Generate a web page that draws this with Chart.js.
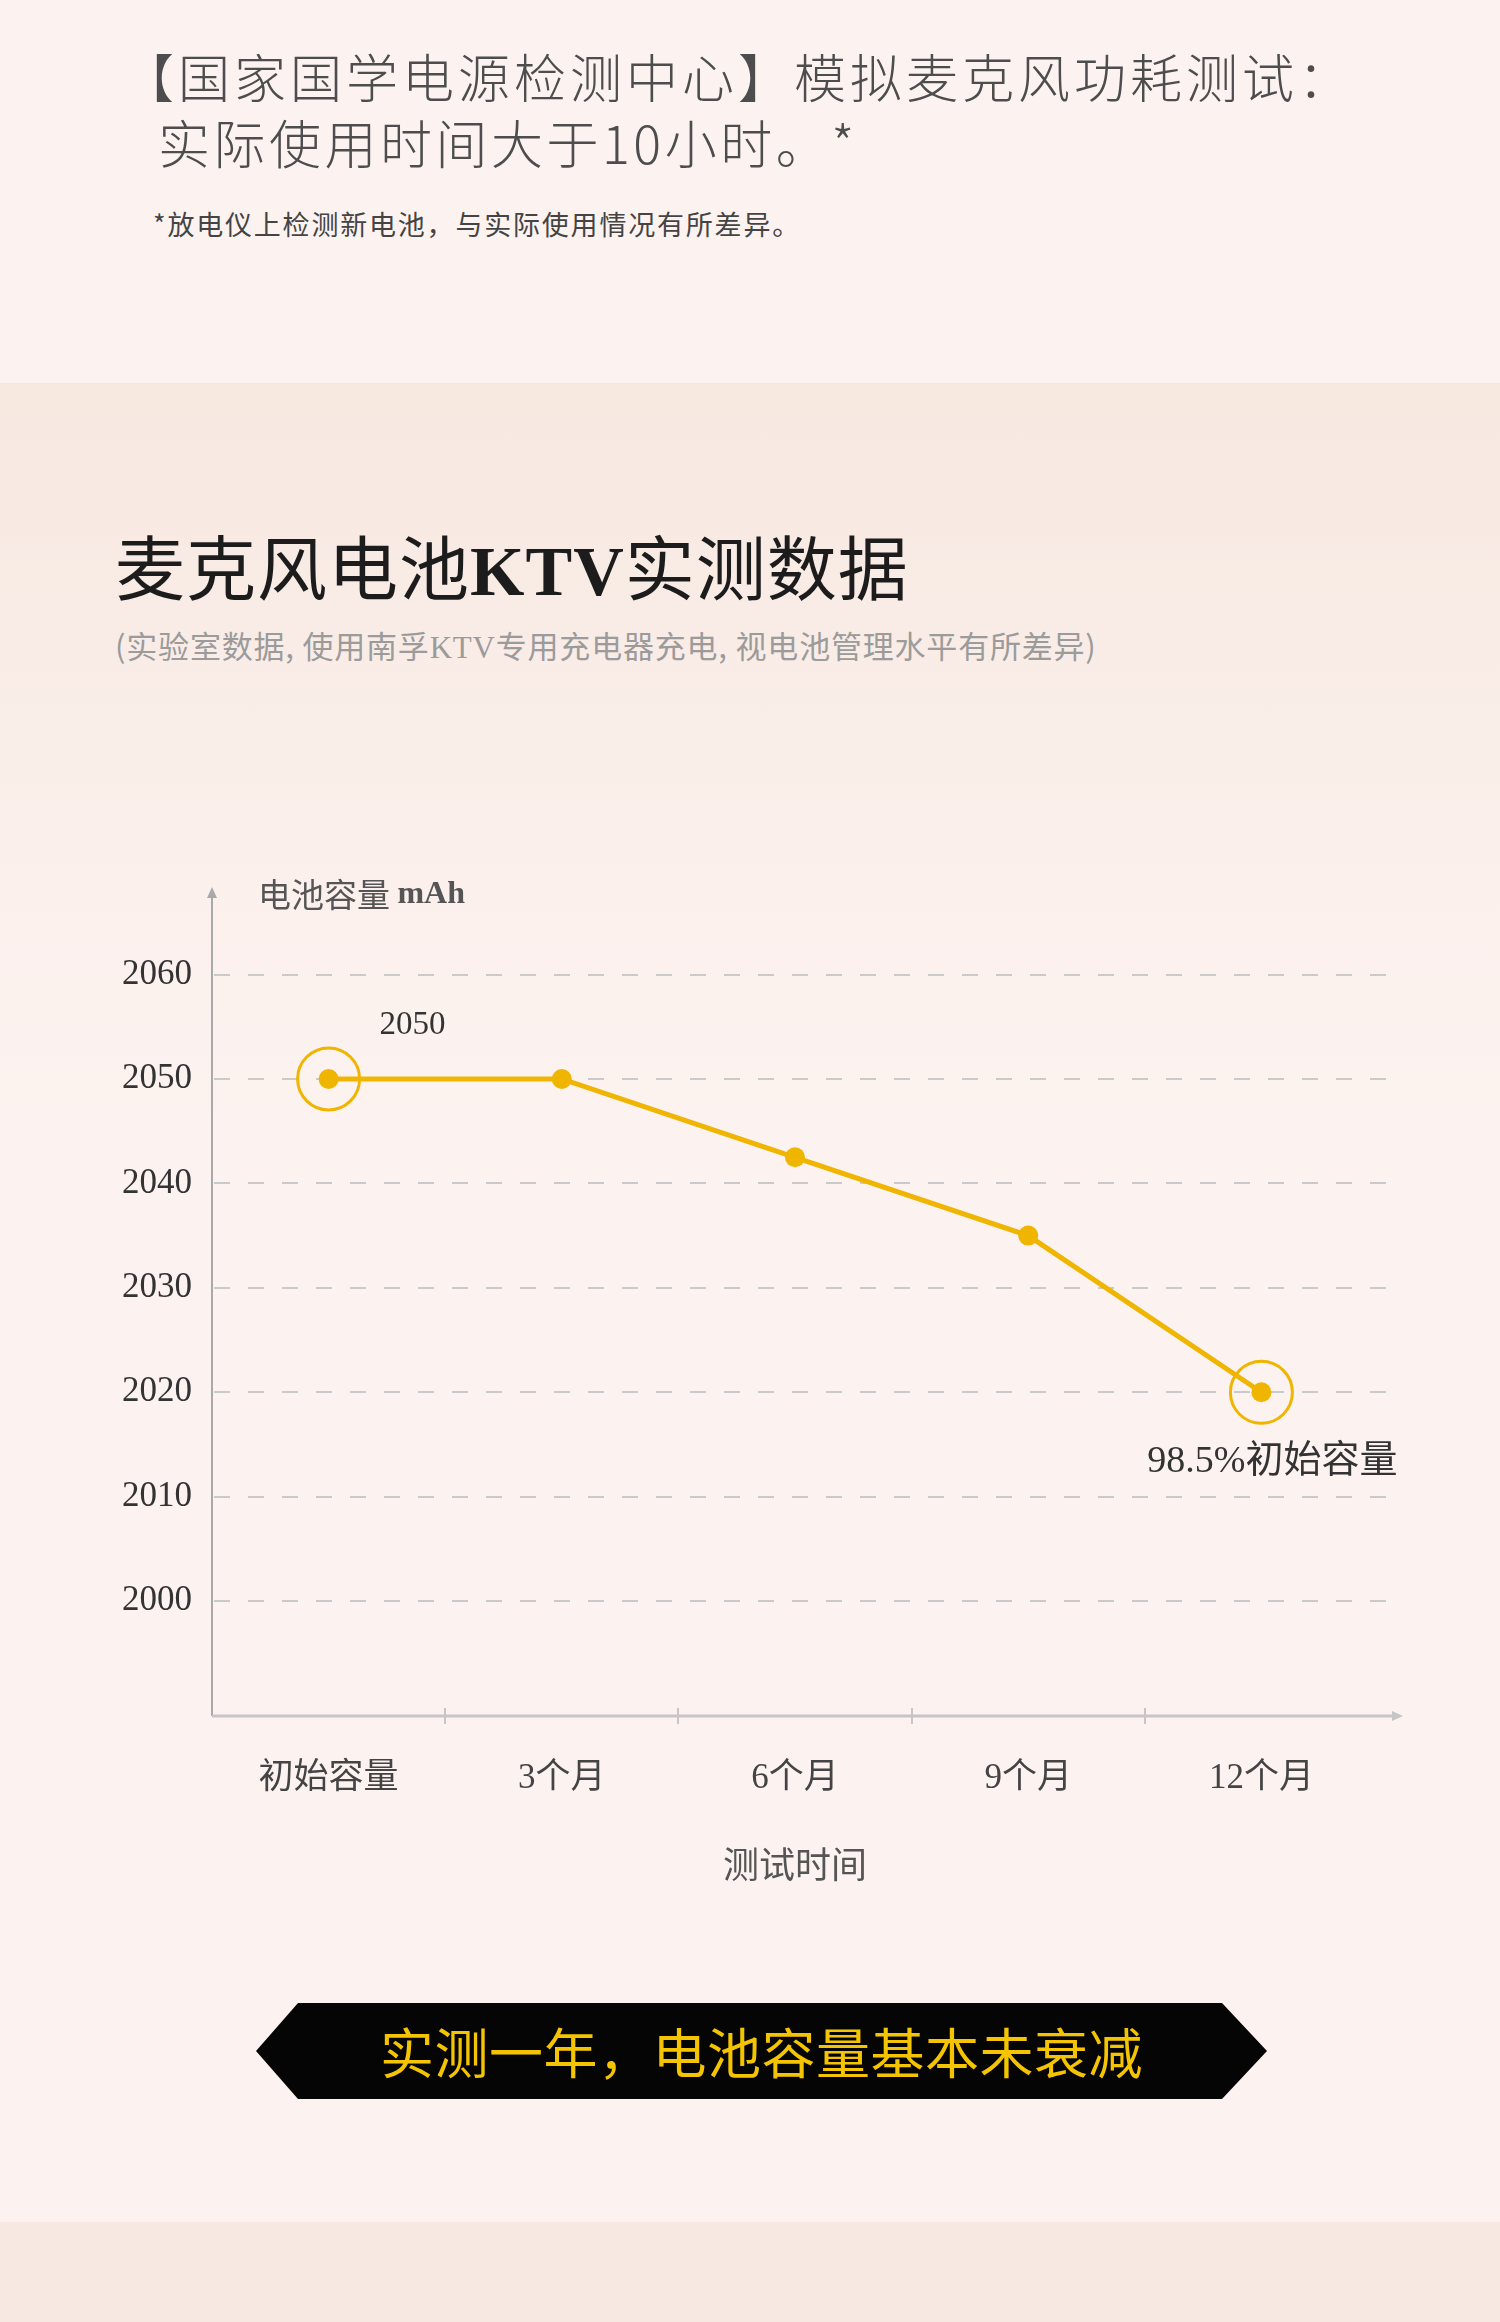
<!DOCTYPE html>
<html>
<head>
<meta charset="utf-8">
<script src="https://cdn.jsdelivr.net/npm/chart.js@4.4.1/dist/chart.umd.min.js"></script>
<style>
  html, body { margin: 0; padding: 0; }
  body {
    width: 1500px; height: 2322px; position: relative; overflow: hidden;
    background: #fcf3f0;
    font-family: "Noto Sans CJK SC", "Noto Sans", sans-serif;
  }
  .band {
    position: absolute; left: 0; top: 383px; width: 1500px; height: 1839px;
    background: linear-gradient(#f7e8e0 0px, #f9ece6 250px, #fbf0ec 500px, #fcf3f0 800px, #fcf3f0 100%);
  }
  .foot { position: absolute; left: 0; top: 2222px; width: 1500px; height: 100px; background: #f7e9e1; }
  .t { position: absolute; white-space: nowrap; line-height: 1; }
  .serif { font-family: "Liberation Serif", serif; }
  #wrap { position: absolute; left: 0; top: 862px; width: 1500px; height: 1080px; }
  .banner {
    position: absolute; left: 256px; top: 2003px; width: 1011px; height: 96px;
    background: #050505;
    clip-path: polygon(0 50%, 42px 0, 966px 0, 100% 50%, 966px 100%, 42px 100%);
  }
  .banner span {
    position: absolute; left: 0; right: 0; top: 0; bottom: 0; text-align: center;
    line-height: 96px; color: #f5c400; font-size: 54px; letter-spacing: 0.5px; font-weight: 400;
  }
</style>
</head>
<body>
<div class="band"></div>
<div class="foot"></div>

<div class="t" style="left:122px; top:50px; font-size:52px; font-weight:300; color:#4d4d4d; letter-spacing:4px;">【国家国学电源检测中心】模拟麦克风功耗测试：</div>
<div class="t" style="left:158px; top:116px; font-size:52px; font-weight:300; color:#4d4d4d; letter-spacing:3.5px;">实际使用时间大于10小时。*</div>
<div class="t" style="left:153px; top:210px; font-size:27px; color:#444; letter-spacing:1.8px;">*放电仪上检测新电池，与实际使用情况有所差异。</div>

<div class="t" style="left:115px; top:530px; font-size:70px; color:#1c1c1c; letter-spacing:1px;">麦克风电池<span class="serif" style="font-weight:bold;">KTV</span>实测数据</div>
<div class="t" style="left:115px; top:629px; font-size:31px; color:#9b9b9b; letter-spacing:0.8px;">(实验室数据, 使用南孚<span class="serif">KTV</span>专用充电器充电, 视电池管理水平有所差异)</div>

<div id="wrap"><canvas id="chart" width="1500" height="1080"></canvas></div>

<div class="banner"><span>实测一年，电池容量基本未衰减</span></div>

<script>
const categories = ['初始容量', '3个月', '6个月', '9个月', '12个月'];
const capacity = [2050, 2050, 2042.5, 2035, 2020];
const yTicks = [2000, 2010, 2020, 2030, 2040, 2050, 2060];
const yTitle = '电池容量 mAh';
const xTitle = '测试时间';

const gold = '#efb500';
const serifCJK = '"Liberation Serif", "Noto Sans CJK SC", serif';

// axes with arrows, dashed guide lines, rings and point notes
const decor = {
  id: 'decor',
  beforeDatasetsDraw(chart) {
    const {ctx, chartArea: a, scales: {x, y}} = chart;
    ctx.save();
    // dashed horizontal guides
    ctx.strokeStyle = '#cacaca';
    ctx.lineWidth = 2;
    ctx.setLineDash([16, 18]);
    yTicks.forEach(v => {
      const py = Math.round(y.getPixelForValue(v));
      ctx.beginPath();
      ctx.moveTo(a.left + 2, py);
      ctx.lineTo(a.right + 17, py);
      ctx.stroke();
    });
    ctx.setLineDash([]);
    // y axis
    ctx.strokeStyle = '#a9a9a9';
    ctx.fillStyle = '#a9a9a9';
    ctx.lineWidth = 2;
    ctx.beginPath();
    ctx.moveTo(a.left, a.bottom);
    ctx.lineTo(a.left, a.top + 2);
    ctx.stroke();
    ctx.beginPath();
    ctx.moveTo(a.left, a.top - 4);
    ctx.lineTo(a.left - 5, a.top + 7);
    ctx.lineTo(a.left + 5, a.top + 7);
    ctx.closePath();
    ctx.fill();
    // x axis
    ctx.strokeStyle = '#c6c6c6';
    ctx.fillStyle = '#c6c6c6';
    ctx.lineWidth = 3;
    ctx.beginPath();
    ctx.moveTo(a.left, a.bottom);
    ctx.lineTo(a.right + 18, a.bottom);
    ctx.stroke();
    ctx.beginPath();
    ctx.moveTo(a.right + 25, a.bottom);
    ctx.lineTo(a.right + 14, a.bottom - 5);
    ctx.lineTo(a.right + 14, a.bottom + 5);
    ctx.closePath();
    ctx.fill();
    // small marks between categories
    ctx.lineWidth = 2;
    for (let i = 0; i < categories.length - 1; i++) {
      const px = Math.round((x.getPixelForValue(i) + x.getPixelForValue(i + 1)) / 2);
      ctx.beginPath();
      ctx.moveTo(px, a.bottom - 8);
      ctx.lineTo(px, a.bottom + 8);
      ctx.stroke();
    }
    // y axis title
    ctx.textBaseline = 'middle';
    ctx.textAlign = 'left';
    ctx.fillStyle = '#555';
    ctx.font = '33px "Noto Sans CJK SC"';
    const parts = yTitle.split(' ');
    ctx.fillText(parts[0], a.left + 46, a.top + 3);
    const w0 = ctx.measureText(parts[0] + ' ').width;
    ctx.font = 'bold 32px "Liberation Serif"';
    ctx.fillText(parts[1], a.left + 46 + w0, a.top + 4);
    ctx.restore();
  },
  afterDatasetsDraw(chart) {
    const {ctx} = chart;
    const pts = chart.getDatasetMeta(0).data;
    const first = pts[0], last = pts[pts.length - 1];
    ctx.save();
    ctx.strokeStyle = gold;
    ctx.lineWidth = 3;
    [first, last].forEach(p => {
      ctx.beginPath();
      ctx.arc(p.x, p.y, 31, 0, Math.PI * 2);
      ctx.stroke();
    });
    ctx.fillStyle = '#333';
    ctx.textBaseline = 'middle';
    ctx.font = '33px ' + serifCJK;
    ctx.textAlign = 'center';
    ctx.fillText(String(capacity[0]), first.x + 84, first.y - 54);
    const pct = (capacity[capacity.length - 1] / capacity[0] * 100).toFixed(1);
    ctx.font = '38px ' + serifCJK;
    ctx.textAlign = 'right';
    ctx.fillText(pct + '%初始容量', last.x + 136, last.y + 70);
    ctx.restore();
  }
};

new Chart(document.getElementById('chart'), {
  type: 'line',
  data: {
    labels: categories,
    datasets: [{
      data: capacity,
      borderColor: gold,
      backgroundColor: gold,
      borderWidth: 5,
      pointRadius: 10,
      pointBorderWidth: 0,
      pointBackgroundColor: gold,
      tension: 0,
      fill: false
    }]
  },
  options: {
    responsive: false,
    animation: false,
    devicePixelRatio: 1,
    layout: { padding: { top: 29, right: 122, bottom: 0, left: 0 } },
    plugins: { legend: { display: false }, tooltip: { enabled: false } },
    scales: {
      x: {
        type: 'category',
        offset: true,
        grid: { display: false },
        border: { display: false },
        ticks: { color: '#444', padding: 34, font: { size: 35, family: serifCJK } },
        title: {
          display: true, text: xTitle, color: '#555',
          font: { size: 36, family: '"Noto Sans CJK SC"' },
          padding: { top: 0, bottom: 56 }
        },
        afterFit: s => { s.height = 226; }
      },
      y: {
        min: 1989,
        max: 2068,
        grid: { display: false, drawTicks: false },
        border: { display: false },
        afterBuildTicks: s => { s.ticks = yTicks.map(v => ({ value: v })); },
        ticks: {
          color: '#333', padding: 20,
          font: { size: 35, family: '"Liberation Serif"' },
          callback: v => String(v)
        },
        afterFit: s => { s.width = 212; s.paddingTop = 0; s.paddingBottom = 0; }
      }
    }
  },
  plugins: [decor]
});
</script>
</body>
</html>
